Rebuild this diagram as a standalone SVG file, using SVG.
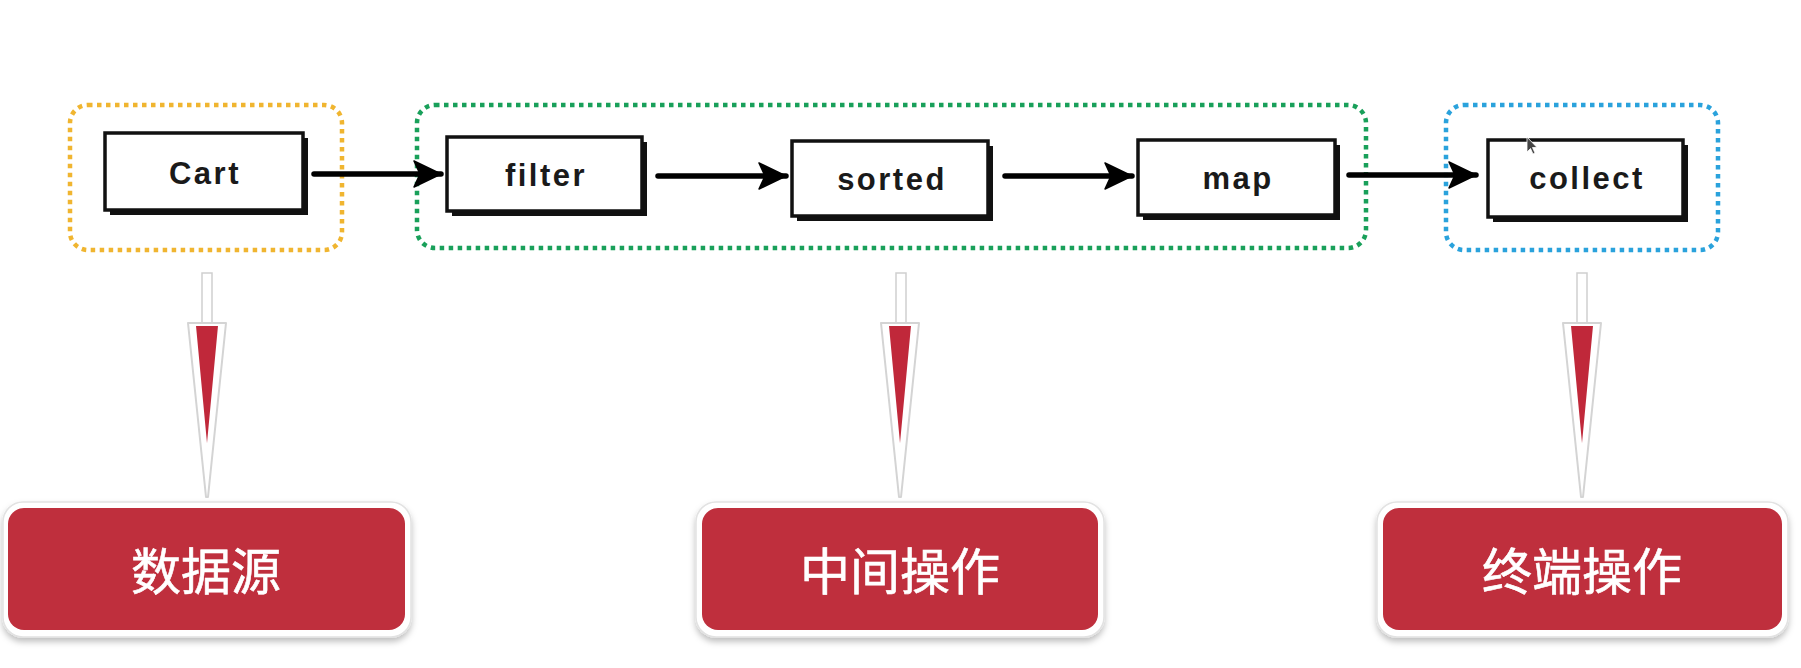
<svg xmlns="http://www.w3.org/2000/svg" width="1801" height="668" viewBox="0 0 1801 668">
<defs>
<style>
.grp{fill:none;stroke-width:4.5;stroke-dasharray:4.5 4.5;}
.box{fill:#fff;stroke:#111;stroke-width:3.5;}
.shadow{fill:#111;}
.lbl{font-family:"Liberation Sans",Arial,sans-serif;font-weight:bold;font-size:31px;letter-spacing:2.5px;fill:#1a1a1a;text-anchor:middle;}
.conn{stroke:#000;stroke-width:5.5;fill:none;stroke-linecap:round;}
.tag{fill:#bf2f3d;}
.tagframe{fill:#fff;stroke:#e2e2e2;stroke-width:1.5;}
.tagtxt{font-family:"Noto Sans CJK SC","Noto Sans",sans-serif;font-weight:400;font-size:50px;fill:#fff;stroke:#fff;stroke-width:0.6;text-anchor:middle;}
.stem{fill:#fff;stroke:#cfcfcf;stroke-width:1.5;}
.tri{fill:#fff;stroke:#d4d4d4;stroke-width:2;stroke-linejoin:round;}
.red{fill:#c0283a;}
</style>
<marker id="ah" markerUnits="userSpaceOnUse" markerWidth="34" markerHeight="34" viewBox="0 0 34 34" refX="30" refY="17" orient="auto">
<path d="M3,4 L30,17 L3,30 L9,17 Z" fill="#000" stroke="#000" stroke-width="1.5" stroke-linejoin="round"/>
</marker>
<filter id="ds" x="-10%" y="-20%" width="120%" height="150%">
<feDropShadow dx="0" dy="4" stdDeviation="3" flood-color="#000" flood-opacity="0.25"/>
</filter>
</defs>
<rect width="1801" height="668" fill="#fff"/>

<g id="groups">
<rect id="grp-source" class="grp" x="70" y="105" width="272" height="145" rx="18" stroke="#f0b530"/>
<rect id="grp-intermediate" class="grp" x="417" y="105" width="949" height="143" rx="18" stroke="#19a05a"/>
<rect id="grp-terminal" class="grp" x="1446" y="105" width="272" height="145" rx="18" stroke="#2aa2dc"/>
</g>

<g id="connectors">
<line class="conn" x1="314" y1="174" x2="441" y2="174" marker-end="url(#ah)"/>
<line class="conn" x1="658" y1="176" x2="786" y2="176" marker-end="url(#ah)"/>
<line class="conn" x1="1005" y1="176" x2="1132" y2="176" marker-end="url(#ah)"/>
<line class="conn" x1="1349" y1="175" x2="1476" y2="175" marker-end="url(#ah)"/>
</g>

<g id="node-cart">
<rect class="shadow" x="110" y="138" width="198" height="77"/>
<rect class="box" x="105" y="133" width="198" height="77"/>
<text class="lbl" x="205" y="184">Cart</text>
</g>
<g id="node-filter">
<rect class="shadow" x="452" y="142" width="195" height="74"/>
<rect class="box" x="447" y="137" width="195" height="74"/>
<text class="lbl" x="546" y="186">filter</text>
</g>
<g id="node-sorted">
<rect class="shadow" x="797" y="146" width="196" height="75"/>
<rect class="box" x="792" y="141" width="196" height="75"/>
<text class="lbl" x="892" y="190">sorted</text>
</g>
<g id="node-map">
<rect class="shadow" x="1143" y="145" width="197" height="75"/>
<rect class="box" x="1138" y="140" width="197" height="75"/>
<text class="lbl" x="1238" y="189">map</text>
</g>
<g id="node-collect">
<rect class="shadow" x="1493" y="145" width="195" height="77"/>
<rect class="box" x="1488" y="140" width="195" height="77"/>
<text class="lbl" x="1587" y="189">collect</text>
<path d="M1527,137 L1527,152 L1530.5,148.5 L1533,154 L1535,153 L1532.5,147.5 L1537,147.5 Z" fill="#444" stroke="#fff" stroke-width="0.8"/>
</g>

<g id="pointer-source">
<rect class="stem" x="202" y="273" width="10" height="52"/>
<path class="tri" d="M188,323 L226,323 L208,497 L206,497 Z"/>
<path class="red" d="M196,326 L218,326 L207,443 Z"/>
</g>
<g id="pointer-intermediate">
<rect class="stem" x="896" y="273" width="10" height="52"/>
<path class="tri" d="M881,323 L919,323 L901,497 L899,497 Z"/>
<path class="red" d="M889,326 L911,326 L900,443 Z"/>
</g>
<g id="pointer-terminal">
<rect class="stem" x="1577" y="273" width="10" height="52"/>
<path class="tri" d="M1563,323 L1601,323 L1583,497 L1581,497 Z"/>
<path class="red" d="M1571,326 L1593,326 L1582,443 Z"/>
</g>

<g id="tag-source">
<rect class="tagframe" x="3" y="502" width="408" height="135" rx="20" filter="url(#ds)"/>
<rect class="tag" x="8" y="508" width="397" height="122" rx="16"/>
<text class="tagtxt" x="206" y="590">数据源</text>
</g>
<g id="tag-intermediate">
<rect class="tagframe" x="696" y="502" width="408" height="135" rx="20" filter="url(#ds)"/>
<rect class="tag" x="702" y="508" width="396" height="122" rx="16"/>
<text class="tagtxt" x="900" y="590">中间操作</text>
</g>
<g id="tag-terminal">
<rect class="tagframe" x="1377" y="502" width="411" height="135" rx="20" filter="url(#ds)"/>
<rect class="tag" x="1383" y="508" width="399" height="122" rx="16"/>
<text class="tagtxt" x="1582" y="590">终端操作</text>
</g>
</svg>
